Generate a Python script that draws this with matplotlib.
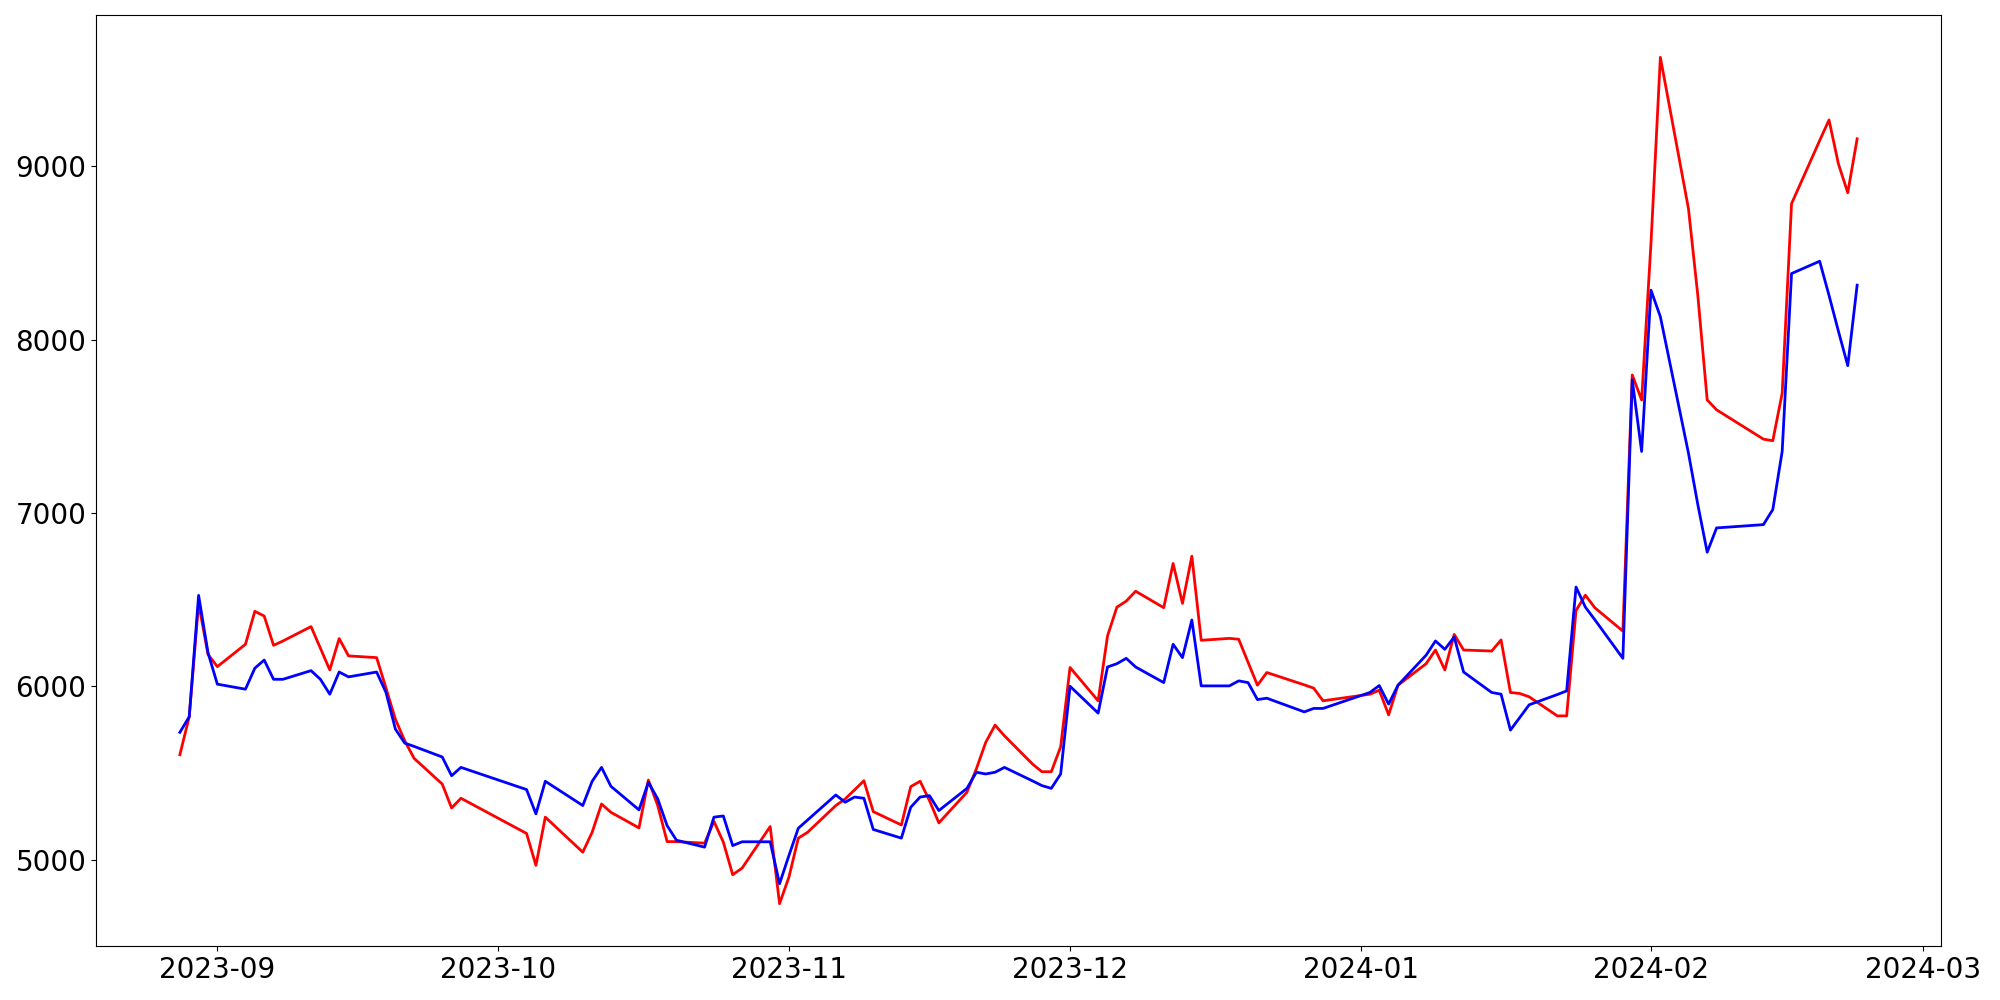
import matplotlib
matplotlib.use("Agg")
import matplotlib.pyplot as plt
import matplotlib.dates as mdates
import pandas as pd

dates = [
    "2023-08-28", "2023-08-29", "2023-08-30", "2023-08-31", "2023-09-01",
    "2023-09-04", "2023-09-05", "2023-09-06", "2023-09-07", "2023-09-08",
    "2023-09-11", "2023-09-12", "2023-09-13", "2023-09-14", "2023-09-15",
    "2023-09-18", "2023-09-19", "2023-09-20", "2023-09-21", "2023-09-22",
    "2023-09-25", "2023-09-26", "2023-09-27",
    "2023-10-04", "2023-10-05", "2023-10-06",
    "2023-10-10", "2023-10-11", "2023-10-12", "2023-10-13",
    "2023-10-16", "2023-10-17", "2023-10-18", "2023-10-19", "2023-10-20",
    "2023-10-23", "2023-10-24", "2023-10-25", "2023-10-26", "2023-10-27",
    "2023-10-30", "2023-10-31", "2023-11-01", "2023-11-02", "2023-11-03",
    "2023-11-06", "2023-11-07", "2023-11-08", "2023-11-09", "2023-11-10",
    "2023-11-13", "2023-11-14", "2023-11-15", "2023-11-16", "2023-11-17",
    "2023-11-20", "2023-11-21", "2023-11-22", "2023-11-23", "2023-11-24",
    "2023-11-27", "2023-11-28", "2023-11-29", "2023-11-30", "2023-12-01",
    "2023-12-04", "2023-12-05", "2023-12-06", "2023-12-07", "2023-12-08",
    "2023-12-11", "2023-12-12", "2023-12-13", "2023-12-14", "2023-12-15",
    "2023-12-18", "2023-12-19", "2023-12-20", "2023-12-21", "2023-12-22",
    "2023-12-26", "2023-12-27", "2023-12-28",
    "2024-01-02", "2024-01-03", "2024-01-04", "2024-01-05",
    "2024-01-08", "2024-01-09", "2024-01-10", "2024-01-11", "2024-01-12",
    "2024-01-15", "2024-01-16", "2024-01-17", "2024-01-18", "2024-01-19",
    "2024-01-22", "2024-01-23", "2024-01-24", "2024-01-25", "2024-01-26",
    "2024-01-29", "2024-01-30", "2024-01-31", "2024-02-01", "2024-02-02",
    "2024-02-05", "2024-02-06", "2024-02-07", "2024-02-08",
    "2024-02-13", "2024-02-14", "2024-02-15", "2024-02-16",
    "2024-02-19", "2024-02-20", "2024-02-21", "2024-02-22", "2024-02-23",
]

red_values = [
    5606, 5825, 6480, 6185, 6114,
    6243, 6433, 6406, 6237, 6262,
    6345, 6220, 6095, 6276, 6176,
    6166, 5990, 5811, 5686, 5585,
    5437, 5299, 5355,
    5152, 4968, 5246,
    5044, 5159, 5322, 5274,
    5184, 5460, 5313, 5105, 5105,
    5096, 5221, 5102, 4914, 4952,
    5192, 4747, 4900, 5125, 5159,
    5313, 5351, 5403, 5456, 5278,
    5201, 5422, 5453, 5341, 5213,
    5390, 5524, 5677, 5777, 5715,
    5552, 5508, 5508, 5652, 6109,
    5917, 6291, 6457, 6492, 6549,
    6454, 6709, 6479, 6751, 6266,
    6277, 6272, 6139, 6007, 6080,
    6009, 5990, 5917,
    5955, 5978, 5836, 6007,
    6131, 6210, 6095, 6300, 6210,
    6204, 6268, 5965, 5959, 5940,
    5830, 5830, 6438, 6526, 6454,
    6319, 7796, 7652, 8556, 9628,
    8755, 8253, 7652, 7595,
    7426, 7417, 7691, 8784,
    9148, 9267, 9014, 8847, 9158,
]

blue_values = [
    5735, 5825, 6525, 6195, 6013,
    5984, 6105, 6152, 6041, 6041,
    6091, 6041, 5955, 6083, 6055,
    6083, 5965, 5754, 5673, 5654,
    5593, 5485, 5533,
    5405, 5265, 5453,
    5313, 5453, 5533, 5424,
    5288, 5447, 5351, 5197, 5113,
    5073, 5246, 5253, 5082, 5104,
    5104, 4862, 5025, 5182, 5230,
    5374, 5332, 5362, 5355, 5175,
    5125, 5303, 5362, 5370, 5284,
    5412, 5505, 5495, 5505, 5533,
    5455, 5428, 5412, 5495, 6001,
    5846, 6112, 6131, 6162, 6112,
    6022, 6243, 6166, 6383, 6003,
    6003, 6032, 6022, 5924, 5932,
    5853, 5873, 5873,
    5965, 6005, 5898, 6007,
    6180, 6262, 6214, 6285, 6083,
    5965, 5955, 5748, 5821, 5894,
    5953, 5974, 6573, 6457, 6385,
    6162, 7768, 7355, 8285, 8132,
    7345, 7048, 6774, 6914,
    6933, 7020, 7355, 8381,
    8452, 8255, 8049, 7850, 8314,
]

x = pd.to_datetime(dates)

fig = plt.figure(figsize=(20, 10), dpi=100)
ax = fig.add_axes([0.048, 0.054, 0.9225, 0.931])
ax.plot(x, red_values, color="red", linewidth=2.0)
ax.plot(x, blue_values, color="blue", linewidth=2.0)

ax.xaxis.set_major_locator(mdates.MonthLocator())
ax.xaxis.set_major_formatter(mdates.DateFormatter("%Y-%m"))
ax.set_yticks([5000, 6000, 7000, 8000, 9000])
ax.tick_params(axis="both", labelsize=20)

fig.savefig("out.png", dpi=100)
